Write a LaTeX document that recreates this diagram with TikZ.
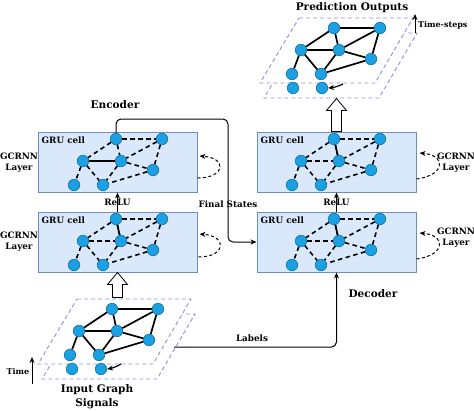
\documentclass[tikz,border=0pt]{standalone}
\usepackage{fontspec}
\setmainfont{DejaVu Serif}
\usetikzlibrary{arrows.meta,calc}

\definecolor{cellfill}{HTML}{DAE8FC}
\definecolor{celledge}{HTML}{6C8EBF}
\definecolor{vertexfill}{HTML}{1BA1E2}
\definecolor{vertexedge}{HTML}{0A6FAE}
\definecolor{planeedge}{HTML}{9090E0}

\tikzset{
  vertex/.style={circle,fill=vertexfill,draw=vertexedge,line width=0.6pt,minimum size=11.5pt,inner sep=0pt},
  solidedge/.style={line width=1.7pt},
  dashedge/.style={line width=1.6pt,dash pattern=on 4.5pt off 3.5pt},
  cellbox/.style={draw=celledge,fill=cellfill,line width=1pt,minimum width=159pt,minimum height=60pt,inner sep=0pt},
  plane/.style={draw=planeedge,fill=white,line width=0.9pt,dash pattern=on 4pt off 3pt},
  hollow/.style={draw,fill=white,line width=0.8pt},
  conn/.style={line width=1pt,-{Stealth[length=6pt,width=5pt]}},
  loopconn/.style={line width=1pt,dash pattern=on 3pt off 2.5pt,-{Stealth[length=6pt,width=5pt]}},
  title/.style={font=\bfseries\fontsize{10.5}{14}\selectfont,align=center,inner sep=0pt},
  smalltxt/.style={font=\bfseries\fontsize{8.8}{11}\selectfont,align=center,inner sep=0pt}
}

% グラフの頂点 a--g (#1: 名前の接頭辞, #2,#3: 頂点 a の位置)
\newcommand{\graphvertices}[3]{%
  \node[vertex] (#1a) at (#2,#3) {};
  \node[vertex] (#1b) at ({#2+46},#3) {};
  \node[vertex] (#1c) at ({#2-33},{#3+22}) {};
  \node[vertex] (#1d) at ({#2+5},{#3+22}) {};
  \node[vertex] (#1e) at ({#2+37},{#3+31}) {};
  \node[vertex] (#1f) at ({#2-42},{#3+46}) {};
  \node[vertex] (#1g) at ({#2-13},{#3+46}) {};
}
% グラフの辺 (#1: 接頭辞, #2: 線のスタイル)
\newcommand{\graphedges}[2]{%
  \foreach \p/\q in {a/b,a/c,a/d,b/d,b/e,c/d,d/e,c/f,c/g,d/g,e/g}
    \draw[#2] (#1\p) -- (#1\q);
}
% 時間方向に重なった二枚の平面 (#1,#2: 頂点 a の位置)
\newcommand{\twoplanes}[2]{%
  \draw[plane] ({#1-31},{#2+5}) -- ({#1+83},{#2+5}) -- ({#1+45},{#2+70}) -- ({#1-70},{#2+70}) -- cycle;
  \draw[plane] ({#1-35},{#2-10}) -- ({#1+79},{#2-10}) -- ({#1+41},{#2+55}) -- ({#1-74},{#2+55}) -- cycle;
}
% 白抜きの上向き矢印 (#1: 先端, #2: 軸の長さ)
\newcommand{\hollowup}[2]{%
  \draw[hollow] #1 -- ++(10,12) -- ++(-5,0) -- ++(0,#2) -- ++(-10,0) -- ++(0,-#2) -- ++(-5,0) -- cycle;
}

\begin{document}
\begin{tikzpicture}[x=1pt,y=-1pt]
  \useasboundingbox (0,0) rectangle (474,410);
  % エンコーダの二つの層
  \node[cellbox] (enc1) at (117.5,162) {};
  \node[cellbox] (enc2) at (117.5,242) {};
  % デコーダの二つの層
  \node[cellbox] (dec1) at (336.5,162) {};
  \node[cellbox] (dec2) at (336.5,242) {};
  % GRU cell の文字
  \foreach \b in {enc1,enc2,dec1,dec2}
    \node[smalltxt,anchor=north west] (\b-lbl) at ($(\b.north west)+(4,5)$) {GRU cell};

  % 各層の中のグラフ
  \graphvertices{ea}{116}{139}
  \graphedges{ea}{dashedge}
  \draw[solidedge] (eac) -- (ead);
  \graphvertices{eb}{116}{219}
  \graphedges{eb}{dashedge}
  \draw[solidedge] (eba) -- (ebd);
  \graphvertices{da}{334}{139}
  \graphedges{da}{dashedge}
  \draw[solidedge] (daa) -- (dad);
  \graphvertices{db}{334}{219}
  \graphedges{db}{dashedge}
  \draw[solidedge] (dba) -- (dbd);

  % 入力グラフ信号
  \twoplanes{112}{309}
  \graphvertices{in}{112}{309}
  \node[vertex] (inh) at (72,369) {};
  \node[vertex] (ini) at (101,369) {};
  \graphedges{in}{solidedge}
  \coordinate (inarr) at (121,364);
  \draw[conn,line width=1.2pt] (inarr) to[bend left=10] (ini.east);

  % 予測出力
  \twoplanes{334}{28}
  \graphvertices{out}{334}{28}
  \node[vertex] (outh) at (293,88) {};
  \node[vertex] (outi) at (322,88) {};
  \graphedges{out}{solidedge}
  \coordinate (outarr) at (343,84);
  \draw[conn,line width=1.2pt] (outarr) to[bend left=10] (outi.east);

  % 見出し
  \node[title] (predtitle) at (352,8) {Prediction Outputs};
  \node[title] (inputtitle) at (97,397) {Input Graph\\Signals};
  \node[title] (enctitle) at (115,105) {Encoder};
  \node[title] (dectitle) at (373,294) {Decoder};

  % 時間の矢印
  \coordinate (tlow) at (32,384);
  \coordinate (thigh) at (32,357);
  \draw[conn,line width=0.8pt] (tlow) -- (thigh);
  \node[smalltxt,font=\bfseries\fontsize{8}{9}\selectfont] (timelbl) at (18,372) {Time};
  \coordinate (tslow) at (415,33);
  \coordinate (tshigh) at (415,14);
  \draw[conn,line width=0.8pt] (tslow) -- (tshigh);
  \node[smalltxt,font=\bfseries\fontsize{8}{9}\selectfont,anchor=west] (tslbl) at (418,25) {Time-steps};

  % GCRNN Layer の文字
  \node[smalltxt] (encg1) at (19,163) {GCRNN\\Layer};
  \node[smalltxt] (encg2) at (19,242) {GCRNN\\Layer};
  \node[smalltxt] (decg1) at (456,163) {GCRNN\\Layer};
  \node[smalltxt] (decg2) at (456,238) {GCRNN\\Layer};

  % 再帰の点線ループ
  \draw[loopconn] ($(enc1.east)+(0,16)$) .. controls +(28,0) and +(28,2) .. ($(enc1.east)+(2,-6)$);
  \draw[loopconn] ($(enc2.east)+(1,15)$) .. controls +(28,0) and +(28,2) .. ($(enc2.east)+(2,-8)$);
  \draw[loopconn] ($(dec1.east)+(0,17)$) .. controls +(30,-4) and +(26,2) .. ($(dec1.east)+(3,-9)$);
  \draw[loopconn] ($(dec2.east)+(0,17)$) .. controls +(30,-4) and +(26,2) .. ($(dec2.east)+(3,-9)$);

  % 層の間の ReLU
  \draw[conn] (enc2.north) -- (enc1.south) node[midway,smalltxt] (relu1) {ReLU};
  \draw[conn] (dec2.north) -- (dec1.south) node[midway,smalltxt] (relu2) {ReLU};

  % 最終状態
  \coordinate (fsturn) at (228,119);
  \draw[conn,rounded corners=5pt] (eaa.north) |- (fsturn) |- (dec2.west);
  \node[smalltxt] (fslbl) at (228,204) {Final States};

  % ラベル
  \coordinate (labstart) at (174,347);
  \draw[conn,rounded corners=5pt] (labstart) -| (dec2.south);
  \node[smalltxt] (lablbl) at (252,338) {Labels};

  % 白抜き矢印
  \hollowup{(enc2.south)}{13}
  \hollowup{($(dec1.north)+(0,-33)$)}{21}
\end{tikzpicture}
\end{document}
